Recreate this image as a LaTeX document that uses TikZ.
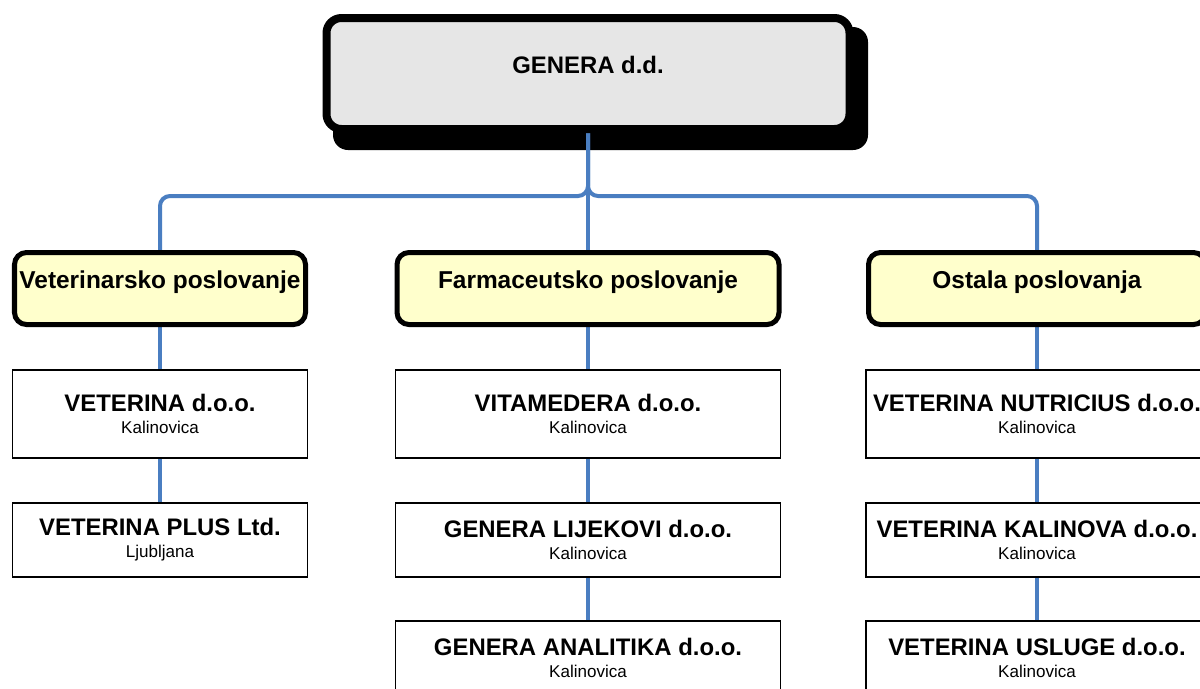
\documentclass[tikz,border=0pt]{standalone}
\usepackage{fontspec}
\setmainfont{Liberation Sans}
\usetikzlibrary{calc,positioning,backgrounds}

\definecolor{lineBlue}{RGB}{74,126,193}
\definecolor{catFill}{RGB}{255,255,204}
\definecolor{rootFill}{RGB}{230,230,230}

\begin{document}
\begin{tikzpicture}[
    conn/.style={draw=lineBlue, line width=0.08cm},
    rootbox/.style={draw, line width=0.16cm, rounded corners=0.3cm, fill=rootFill,
        minimum width=10.46cm, minimum height=2.22cm, text height=0.35cm, text depth=0.35cm,
        font=\bfseries\fontsize{13.6}{16}\selectfont},
    catbox/.style={draw, line width=0.1cm, rounded corners=0.24cm, fill=catFill,
        minimum height=1.44cm, text height=0.35cm, text depth=0.35cm, inner sep=0pt,
        font=\bfseries\fontsize{13.9}{16}\selectfont},
    firmbox/.style={draw, line width=0.7pt, fill=white, align=center, inner sep=0pt,
        font=\fontsize{9.7}{12.5}\selectfont}
]
\useasboundingbox (0,0) rectangle (24,-13.76);

\newcommand{\drawFirm}[6]{
    \node[firmbox, minimum width=#3, minimum height=#4] (#1) at #2
        {{\bfseries\fontsize{13.6}{12.5}\selectfont #5}\\#6};
}

% top company
\node[rootbox] (cRoot) at (11.76,-1.47) {GENERA d.d.};

% business lines
\node[catbox, minimum width=5.82cm] (cVetCat) at (3.2,-5.77) {Veterinarsko poslovanje};
\node[catbox, minimum width=7.64cm] (cFarmCat) at (11.76,-5.77) {Farmaceutsko poslovanje};
\node[catbox, minimum width=6.74cm] (cOstCat) at (20.74,-5.77) {Ostala poslovanja};

% companies
\drawFirm{cVet1}{(3.2,-8.28)}{5.9cm}{1.76cm}{VETERINA d.o.o.}{Kalinovica}
\drawFirm{cVet2}{(3.2,-10.8)}{5.9cm}{1.48cm}{VETERINA PLUS Ltd.}{Ljubljana}

\drawFirm{cFarm1}{(11.76,-8.28)}{7.7cm}{1.76cm}{VITAMEDERA d.o.o.}{Kalinovica}
\drawFirm{cFarm2}{(11.76,-10.8)}{7.7cm}{1.48cm}{GENERA LIJEKOVI d.o.o.}{Kalinovica}
\drawFirm{cFarm3}{(11.76,-13.16)}{7.7cm}{1.48cm}{GENERA ANALITIKA d.o.o.}{Kalinovica}

\drawFirm{cOst1}{(20.74,-8.28)}{6.84cm}{1.76cm}{VETERINA NUTRICIUS d.o.o.}{Kalinovica}
\drawFirm{cOst2}{(20.74,-10.8)}{6.84cm}{1.48cm}{VETERINA KALINOVA d.o.o.}{Kalinovica}
\drawFirm{cOst3}{(20.74,-13.16)}{6.84cm}{1.48cm}{VETERINA USLUGE d.o.o.}{Kalinovica}

\begin{scope}[on background layer]
    % shadow of the top box
    \fill[black, rounded corners=0.3cm] (6.66,-0.54) rectangle (17.36,-3.0);

    \coordinate (cHub) at ($(cRoot.south)+(0,-1.26)$);
    \draw[conn] (cRoot.south) -- (cFarmCat.north);
    \draw[conn, rounded corners=0.2cm] (cRoot.south) -- (cHub) -| (cVetCat.north);
    \draw[conn, rounded corners=0.2cm] (cRoot.south) -- (cHub) -| (cOstCat.north);

    \foreach \a/\b in {cVetCat/cVet1, cVet1/cVet2,
                       cFarmCat/cFarm1, cFarm1/cFarm2, cFarm2/cFarm3,
                       cOstCat/cOst1, cOst1/cOst2, cOst2/cOst3}
    {
        \draw[conn] (\a.south) -- (\b.north);
    }
\end{scope}
\end{tikzpicture}
\end{document}
